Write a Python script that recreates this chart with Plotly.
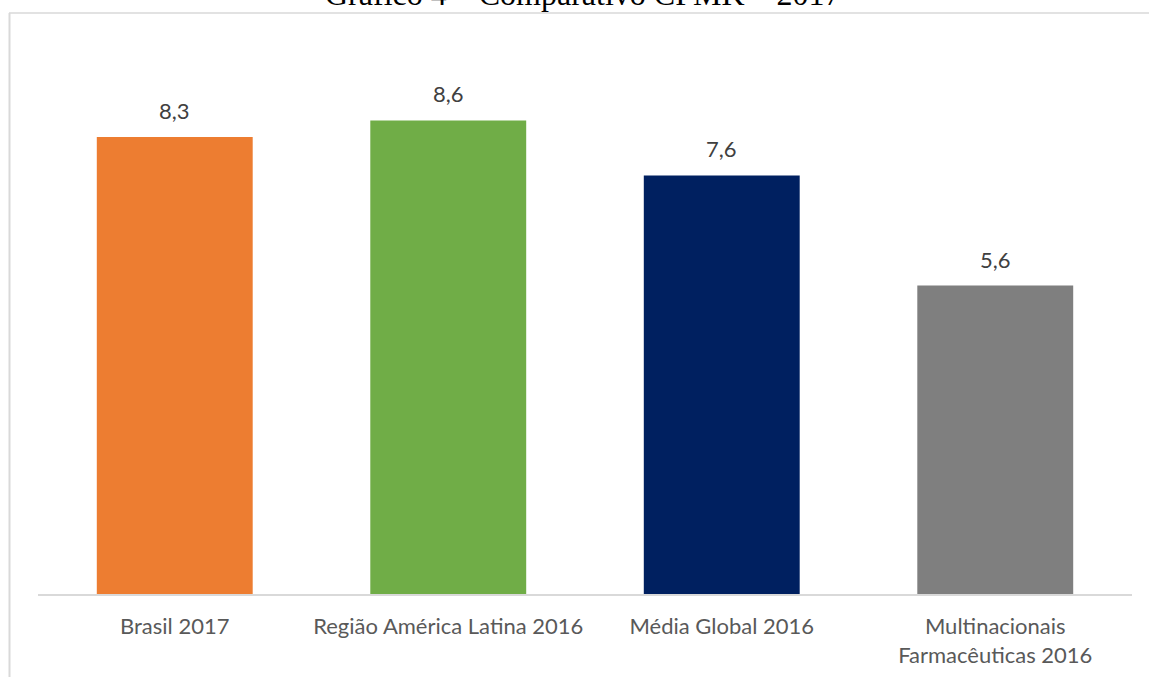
import plotly.graph_objects as go

categories = ["Brasil 2017", "Região América Latina 2016", "Média Global 2016",
              "Multinacionais<br>Farmacêuticas 2016"]
values = [8.3, 8.6, 7.6, 5.6]
value_labels = ["8,3", "8,6", "7,6", "5,6"]
colors = ["#ED7D31", "#70AD47", "#002060", "#7F7F7F"]
title_text = "Gráfico 4 – Comparativo CPMK – 2017"

W, H = 1149, 677
L, R, T, B = 38, 17, 30, 83
pw, ph = W - L - R, H - T - B

def px_x(px):
    return (px - L) / pw

def px_y(py):
    return (H - B - py) / ph

fig = go.Figure(go.Bar(
    x=categories, y=values, marker=dict(color=colors, line=dict(width=0)),
    hoverinfo="skip",
))

for c, v, t in zip(categories, values, value_labels):
    fig.add_annotation(x=c, y=v, text=t, showarrow=False, yanchor="bottom",
                       yshift=11, font=dict(family="Lato", size=22, color="#404040"))

fig.add_annotation(x=px_x(582.5), xref="paper", y=px_y(-6.5), yref="paper", text=title_text,
                   showarrow=False, yanchor="middle",
                   font=dict(family="Liberation Serif", size=32, color="#000000"))

# chart border (top and left)
fig.add_shape(type="line", xref="paper", yref="paper", x0=px_x(9), x1=px_x(1149),
              y0=px_y(13), y1=px_y(13), line=dict(color="#d9d9d9", width=1.5))
fig.add_shape(type="line", xref="paper", yref="paper", x0=px_x(9.5), x1=px_x(9.5),
              y0=px_y(13), y1=px_y(677), line=dict(color="#d9d9d9", width=2))

fig.update_layout(
    width=W, height=H, margin=dict(l=L, r=R, t=T, b=B, autoexpand=False),
    paper_bgcolor="white", plot_bgcolor="white",
    bargap=0.43, showlegend=False,
    xaxis=dict(showline=True, linecolor="#d9d9d9", linewidth=2, ticks="",
               tickfont=dict(family="Lato", size=22, color="#595959"),
               ticklabelstandoff=12, showgrid=False, fixedrange=True, automargin=False),
    yaxis=dict(range=[0, ph / 55.07], visible=False, showgrid=False, fixedrange=True,
               automargin=False),
)

fig.write_html("out.html", config={"displayModeBar": False})
